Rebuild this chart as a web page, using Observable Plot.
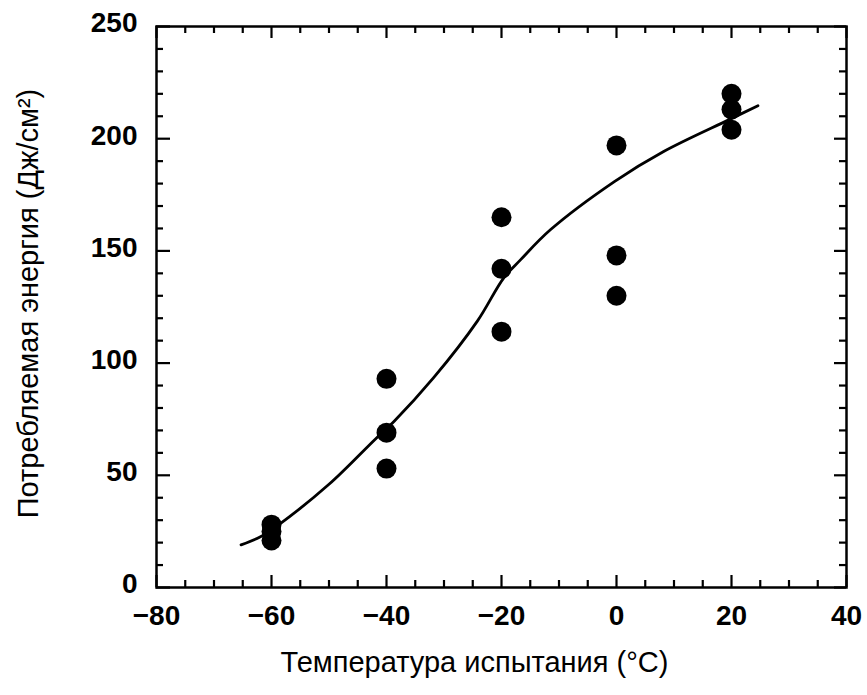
<!DOCTYPE html>
<html>
<head>
<meta charset="utf-8">
<script src="https://cdn.jsdelivr.net/npm/d3@7"></script>
<script src="https://cdn.jsdelivr.net/npm/@observablehq/plot@0.6"></script>
<style>
  html, body { margin: 0; padding: 0; background: #fff; }
  #chart svg { display: block; }
</style>
</head>
<body>
<div id="chart"></div>
<script>
// Measured impact energy vs test temperature
const tempX = [-60, -60, -60, -40, -40, -40, -20, -20, -20, 0, 0, 0, 20, 20, 20];
const energyY = [28, 25, 21, 93, 69, 53, 165, 142, 114, 197, 148, 130, 220, 213, 204];

// Fitted curve
const curveX = [-65.3, -62, -59, -50, -42, -38.7, -31.8, -24.2, -19.6, -16.7, -11.5, -0.3, 8.2, 19.6, 24.6];
const curveY = [19, 22.5, 27.5, 46, 66, 74, 93.5, 118.7, 138, 146, 159.4, 181, 194.3, 208.5, 214.7];

// Tick values
const xMajor = [-80, -60, -40, -20, 0, 20, 40];
const xMinor = [-75, -70, -65, -55, -50, -45, -35, -30, -25, -15, -10, -5, 5, 10, 15, 25, 30, 35];
const yMajor = [0, 50, 100, 150, 200, 250];
const yMinor = [10, 20, 30, 40, 60, 70, 80, 90, 110, 120, 130, 140, 160, 170, 180, 190, 210, 220, 230, 240];

const xTitle = "Температура испытания (°C)";
const yTitle = "Потребляемая энергия (Дж/см²)";

const points = tempX.map((x, i) => ({x, y: energyY[i]}));
const curve = curveX.map((x, i) => ({x, y: curveY[i]}));

const W = 867, H = 695;
const mL = 156, mR = 21, mT = 26, mB = 108;
const fw = W - mL - mR, fh = H - mT - mB;
const xDom = [-80, 40], yDom = [0, 250];
// tick lengths in pixels, converted to data units through the scale extents
const minorLen = 7, majorLen = 12;
const pxX = (xDom[1] - xDom[0]) / fw, pxY = (yDom[1] - yDom[0]) / fh;

const tickOpts = {stroke: "#000", strokeWidth: 2.2};

const chart = Plot.plot({
  width: W,
  height: H,
  marginLeft: mL,
  marginRight: mR,
  marginTop: mT,
  marginBottom: mB,
  style: {fontFamily: "'Liberation Sans', Arial, sans-serif", fontSize: "28px", color: "#000", background: "#fff"},
  x: {domain: xDom},
  y: {domain: yDom},
  marks: [
    // inward ticks: bottom & top
    Plot.ruleX(xMinor, {x: d => d, y1: yDom[0], y2: yDom[0] + minorLen * pxY, ...tickOpts}),
    Plot.ruleX(xMajor, {x: d => d, y1: yDom[0], y2: yDom[0] + majorLen * pxY, ...tickOpts}),
    Plot.ruleX(xMinor, {x: d => d, y1: yDom[1], y2: yDom[1] - minorLen * pxY, ...tickOpts}),
    Plot.ruleX(xMajor, {x: d => d, y1: yDom[1], y2: yDom[1] - majorLen * pxY, ...tickOpts}),
    // inward ticks: left & right
    Plot.ruleY(yMinor, {y: d => d, x1: xDom[0], x2: xDom[0] + minorLen * pxX, ...tickOpts}),
    Plot.ruleY(yMajor, {y: d => d, x1: xDom[0], x2: xDom[0] + (majorLen + 2) * pxX, ...tickOpts}),
    Plot.ruleY(yMinor, {y: d => d, x1: xDom[1], x2: xDom[1] - minorLen * pxX, ...tickOpts}),
    Plot.ruleY(yMajor, {y: d => d, x1: xDom[1], x2: xDom[1] - majorLen * pxX, ...tickOpts}),
    Plot.frame({stroke: "#000", strokeWidth: 2.5}),
    Plot.axisX(xMajor, {tickSize: 0, tickPadding: 18, fontWeight: "bold", fontSize: 28, label: null}),
    Plot.axisY(yMajor, {tickSize: 0, tickPadding: 19, fontWeight: "bold", fontSize: 28, dy: -3, label: null}),
    Plot.line(curve, {x: "x", y: "y", curve: "catmull-rom", stroke: "#000", strokeWidth: 2.8}),
    Plot.dot(points, {x: "x", y: "y", r: 10, fill: "#000", stroke: null}),
    Plot.text([xTitle], {text: d => d, frameAnchor: "bottom", textAnchor: "middle", lineAnchor: "middle", dy: 75, dx: -27, fontSize: 29, fill: "#000"}),
    Plot.text([yTitle], {text: d => d, frameAnchor: "left", textAnchor: "middle", lineAnchor: "middle", rotate: -90, dx: -128, dy: -3.5, fontSize: 29, fill: "#000"})
  ]
});

document.getElementById("chart").appendChild(chart);
</script>
</body>
</html>
